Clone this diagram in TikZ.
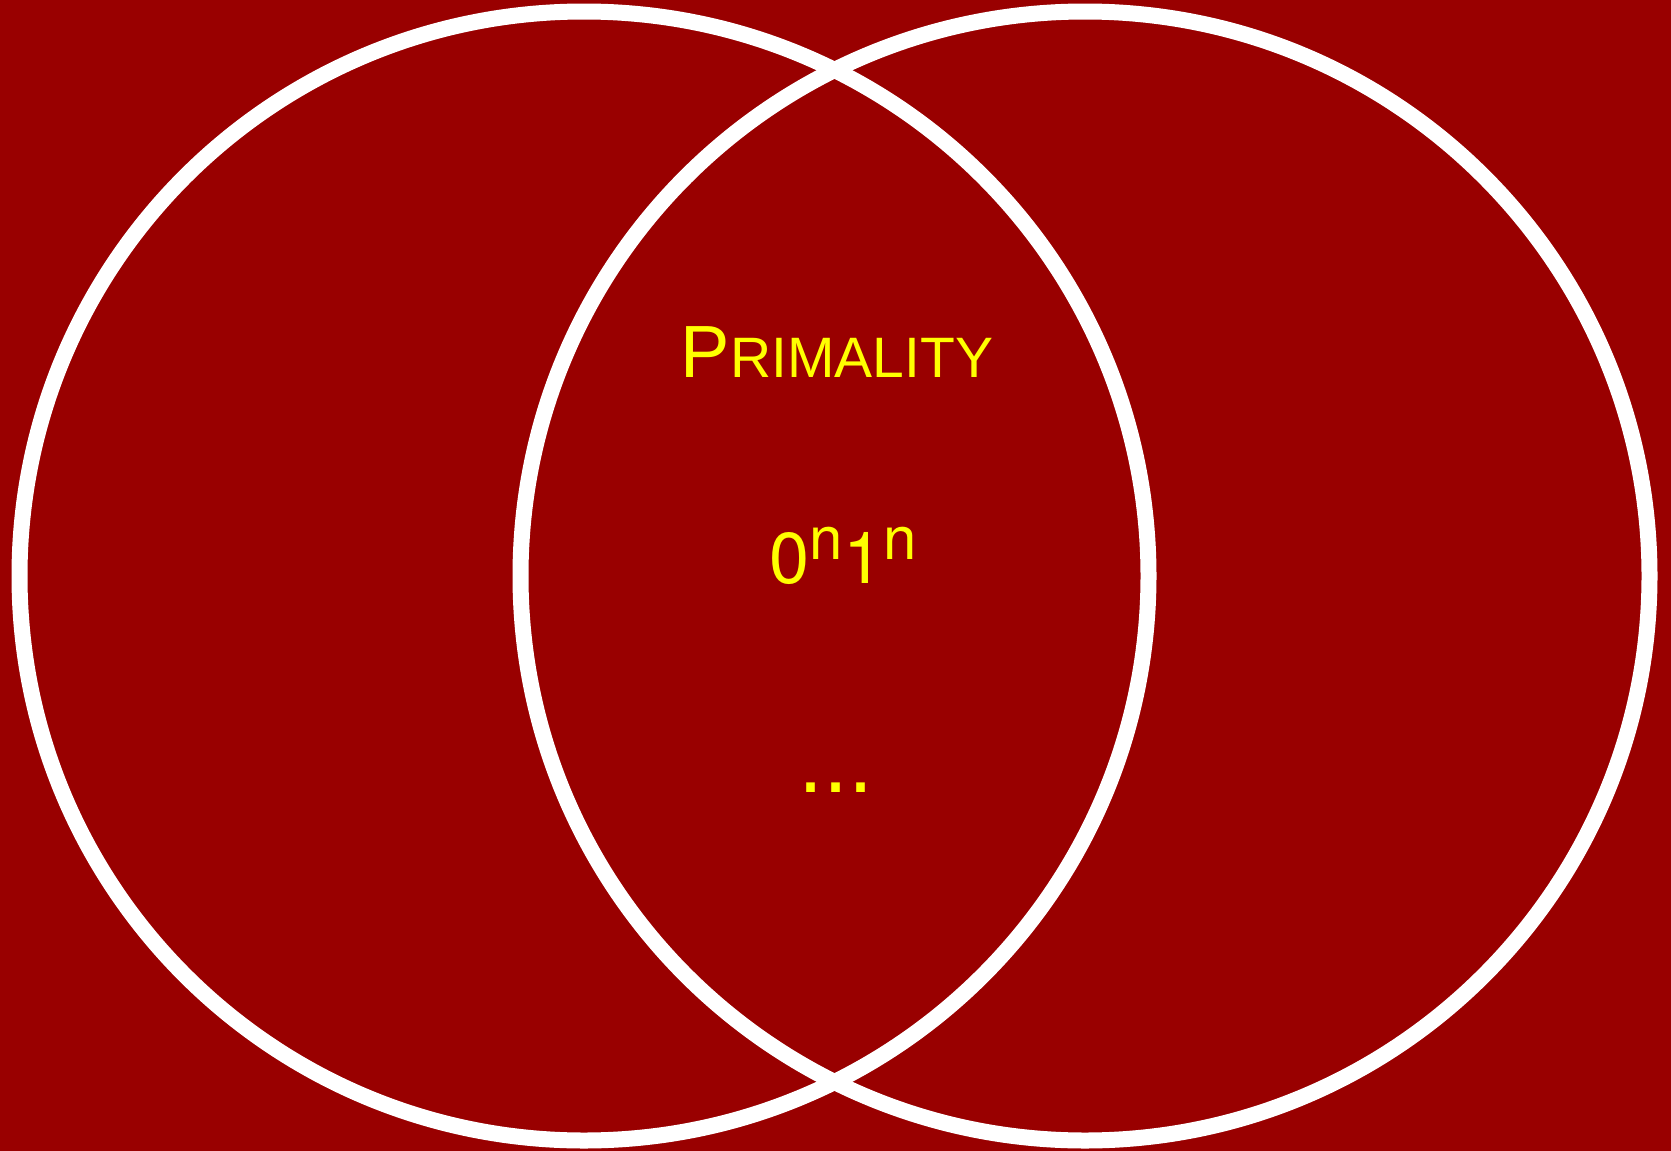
\documentclass[tikz,border=0pt]{standalone}
\usepackage{fontspec}
\setmainfont{Liberation Sans}
\newfontfamily\digitfont{TeX Gyre Heros}
\definecolor{vennred}{HTML}{990000}
\definecolor{vennyellow}{HTML}{FFFF00}

\begin{document}
\begin{tikzpicture}[x=0.5pt, y=-0.5pt,
    setcircle/.style={draw=white, line width=8pt},
    settext/.style={text=vennyellow, inner sep=0pt, anchor=base}]
  \fill[vennred] (0,0) rectangle (1671,1151);
  \useasboundingbox (0,0) rectangle (1671,1151);
  \draw[setcircle] (584,576) circle[radius=564.5];
  \draw[setcircle] (1085,576) circle[radius=564.5];
  \node[settext] (primality) at (837,377)
    {\fontsize{37pt}{40pt}\selectfont P\fontsize{28.5pt}{30pt}\selectfont RIMALITY};
  \node[settext] (zeroone) at (843,583)
    {\digitfont\fontsize{36pt}{40pt}\selectfont 0\raisebox{12pt}{\fontsize{30pt}{32pt}\selectfont n}1\raisebox{12pt}{\fontsize{30pt}{32pt}\selectfont n}};
  \node[settext] (dots) at (836,792) {\fontsize{45pt}{48pt}\selectfont ...};
\end{tikzpicture}
\end{document}
